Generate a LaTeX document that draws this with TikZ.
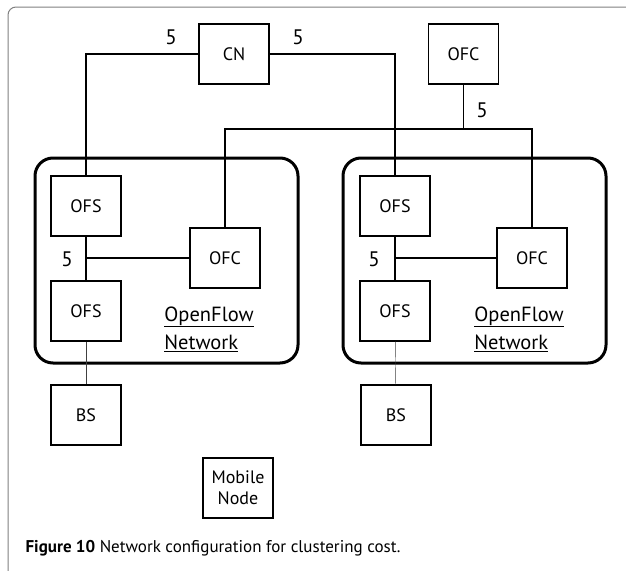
\documentclass[tikz,border=0pt]{standalone}
\usepackage{fontspec}
\setmainfont{PT Sans}
\usetikzlibrary{positioning}
\tikzset{every picture/.style = {x=1pt, y=-1pt, line width=1.2pt}}
\tikzset{box/.style = {draw, minimum width=70, minimum height=60, inner sep=0, font=\fontsize{18}{21}\selectfont}}
\tikzset{cost/.style = {font=\fontsize{21}{21}\selectfont}}
\tikzset{cluster/.style = {draw, line width=3pt, rounded corners=18}}
\tikzset{netname/.style = {align=left, font=\fontsize{20.5}{28}\selectfont}}

\begin{document}
\begin{tikzpicture}
  \clip (0, 0) rectangle (626, 570);
  \draw[gray, line width=1pt, rounded corners=8] (8, 7) rectangle (660, 600);
  % clusters
  \draw[cluster] (35, 158) rectangle (298, 363);
  \draw[cluster] (343, 158) rectangle (606, 363);
  % top
  \node[box] (cn) at (234, 54) {CN};
  \node[box] (ofc) at (463.5, 54) {OFC};
  % left network
  \node[box] (ofsA) at (86, 206) {OFS};
  \node[box] (ofsB) at (86, 311) {OFS};
  \node[box] (ofcA) at (225, 258) {OFC};
  \node[box] (bsA) at (86, 415) {BS};
  \node[netname] (netA) at (209, 329) {\underline{OpenFlow}\\\underline{Network}};
  % right network
  \node[box] (ofsC) at (395, 206) {OFS};
  \node[box] (ofsD) at (395, 311) {OFS};
  \node[box] (ofcB) at (532, 258) {OFC};
  \node[box] (bsB) at (396, 415) {BS};
  \node[netname] (netB) at (519, 329) {\underline{OpenFlow}\\\underline{Network}};
  \node[box, align=center] (mobile) at (238, 488) {Mobile\\Node};
  % links
  \coordinate (hub) at (463.5, 129);
  \draw (cn.west) -| (ofsA.north);
  \draw (cn.east) -| (ofsC.north);
  \draw (ofc.south) -- (hub);
  \draw (ofcA.north) |- (hub) -| (ofcB.north);
  \draw (ofsA) -- (ofsB);
  \draw (ofsC) -- (ofsD);
  \draw (ofcA.west) -- (ofcA.west -| ofsA);
  \draw (ofcB.west) -- (ofcB.west -| ofsC);
  \draw[thin, darkgray] (ofsB) -- (bsA);
  \draw[thin, darkgray] (ofsD) -- (bsB);
  % costs
  \node[cost] (costA) at (171, 37) {5};
  \node[cost] (costB) at (298, 37) {5};
  \node[cost] (costC) at (482, 110) {5};
  \node[cost] (costD) at (67, 259) {5};
  \node[cost] (costE) at (374, 259) {5};
  % caption
  \node[anchor=west, inner sep=0, font=\fontsize{17}{20}\selectfont] (caption) at (25, 548)
    {\textbf{Figure 10} Network configuration for clustering cost.};
\end{tikzpicture}
\end{document}
